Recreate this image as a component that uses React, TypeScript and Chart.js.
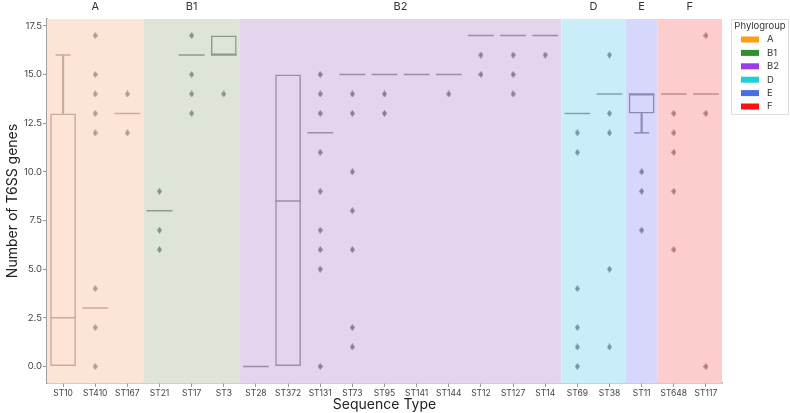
import React, { useEffect, useRef } from 'react';
import Chart from 'chart.js/auto';

const categories = ['ST10', 'ST410', 'ST167', 'ST21', 'ST17', 'ST3', 'ST28', 'ST372', 'ST131', 'ST73', 'ST95', 'ST141', 'ST144', 'ST12', 'ST127', 'ST14', 'ST69', 'ST38', 'ST11', 'ST648', 'ST117'];
const categoryGroup = ['A', 'A', 'A', 'B1', 'B1', 'B1', 'B2', 'B2', 'B2', 'B2', 'B2', 'B2', 'B2', 'B2', 'B2', 'B2', 'D', 'D', 'E', 'F', 'F'];
const groups = ['A', 'B1', 'B2', 'D', 'E', 'F'];

const boxLow: (number | null)[] = [0, null, null, null, null, 16, null, 0, null, null, null, null, null, null, null, null, null, null, 13, null, null];
const boxHigh: (number | null)[] = [13, null, null, null, null, 17, null, 15, null, null, null, null, null, null, null, null, null, null, 14, null, null];
const medians: number[] = [2.5, 3, 13, 8, 16, 16, 0, 8.5, 12, 15, 15, 15, 15, 17, 17, 17, 13, 14, 14, 14, 14];
const whiskerLow: (number | null)[] = [null, null, null, null, null, null, null, null, null, null, null, null, null, null, null, null, null, null, 12, null, null];
const whiskerHigh: (number | null)[] = [16, null, null, null, null, null, null, null, null, null, null, null, null, null, null, null, null, null, null, null, null];
const outliers: number[][] = [
  [],
  [17, 15, 14, 13, 12, 4, 2, 0],
  [14, 12],
  [9, 7, 6],
  [17, 15, 14, 13],
  [14],
  [],
  [],
  [15, 14, 13, 11, 9, 7, 6, 5, 0],
  [14, 13, 10, 8, 6, 2, 1],
  [14, 13],
  [],
  [14],
  [16, 15],
  [16, 15, 14],
  [16],
  [12, 11, 4, 2, 1, 0],
  [16, 13, 12, 5, 1],
  [10, 9, 7],
  [13, 12, 11, 9, 6],
  [17, 13, 0],
];
const yTicks = [0, 2.5, 5, 7.5, 10, 12.5, 15, 17.5];

const groupStyle: Record<string, { bg: string; edge: string; dot: string; legend: string }> = {
  A: { bg: '#fce4d6', edge: '#c8ab9c', dot: '#b19a8f', legend: '#ff9c12' },
  B1: { bg: '#dee5d6', edge: '#8e9a89', dot: '#889483', legend: '#2e8f2e' },
  B2: { bg: '#e3d5ec', edge: '#9d8dac', dot: '#8c7c9c', legend: '#9b3bef' },
  D: { bg: '#caeef9', edge: '#80a2b0', dot: '#7896a5', legend: '#1fcfd3' },
  E: { bg: '#d7d7fb', edge: '#8b8bba', dot: '#7f7fac', legend: '#4b6ee8' },
  F: { bg: '#fdcdcd', edge: '#c28b8b', dot: '#b07c7c', legend: '#ff0f0f' },
};

const FONT = 'Inter, "DejaVu Sans", sans-serif';

function makeDiamond(color: string): HTMLCanvasElement {
  const c = document.createElement('canvas');
  c.width = 5;
  c.height = 7;
  const g = c.getContext('2d')!;
  g.fillStyle = color;
  g.beginPath();
  g.moveTo(2.5, 0);
  g.lineTo(5, 3.5);
  g.lineTo(2.5, 7);
  g.lineTo(0, 3.5);
  g.closePath();
  g.fill();
  return c;
}

const bgPlugin = {
  id: 'groupBg',
  beforeDatasetsDraw(chart: any) {
    const { ctx, chartArea } = chart;
    const xs = chart.scales.xTop;
    ctx.save();
    groups.forEach((g) => {
      const first = categoryGroup.indexOf(g);
      const last = categoryGroup.lastIndexOf(g);
      const l = xs.getPixelForValue(first - 0.5);
      const r = xs.getPixelForValue(last + 0.5);
      ctx.fillStyle = groupStyle[g].bg;
      ctx.fillRect(l, chartArea.top, r - l, chartArea.bottom - chartArea.top);
    });
    ctx.restore();
  },
};

const legendPlugin = {
  id: 'phyloLegend',
  afterDraw(chart: any) {
    const { ctx, chartArea } = chart;
    const x0 = chartArea.right + 9;
    const y0 = chartArea.top;
    const w = 57;
    const h = 95;
    ctx.save();
    ctx.strokeStyle = '#dddddd';
    ctx.lineWidth = 1;
    ctx.fillStyle = '#ffffff';
    ctx.beginPath();
    ctx.rect(x0 + 0.5, y0 + 0.5, w, h);
    ctx.fill();
    ctx.stroke();
    ctx.fillStyle = '#333333';
    ctx.font = `9.5px ${FONT}`;
    ctx.textAlign = 'center';
    ctx.textBaseline = 'middle';
    ctx.fillText('Phylogroup', x0 + w / 2 + 0.5, y0 + 7.5);
    groups.forEach((g, i) => {
      const cy = y0 + 20.5 + i * 13.4;
      ctx.fillStyle = groupStyle[g].legend;
      ctx.fillRect(x0 + 10, cy - 3, 18, 6);
      ctx.fillStyle = '#333333';
      ctx.textAlign = 'left';
      ctx.fillText(g, x0 + 36, cy);
    });
    ctx.restore();
  },
};

export default function App() {
  const ref = useRef<HTMLCanvasElement | null>(null);
  useEffect(() => {
    if (!ref.current) return;
    const edgeColors = categoryGroup.map((g) => groupStyle[g].edge);
    const diamonds: Record<string, HTMLCanvasElement> = {};
    groups.forEach((g) => { diamonds[g] = makeDiamond(groupStyle[g].dot); });
    const whiskerHiData = categories.map((_, i) => (whiskerHigh[i] != null && boxHigh[i] != null ? [boxHigh[i] as number, whiskerHigh[i] as number] : null));
    const whiskerLoData = categories.map((_, i) => (whiskerLow[i] != null && boxLow[i] != null ? [whiskerLow[i] as number, boxLow[i] as number] : null));
    const boxData = categories.map((_, i) => (boxLow[i] != null && boxHigh[i] != null ? [boxLow[i] as number, boxHigh[i] as number] : null));
    const outlierPts: { x: string; y: number }[] = [];
    const outlierStyles: HTMLCanvasElement[] = [];
    outliers.forEach((vals, i) => {
      vals.forEach((v) => {
        outlierPts.push({ x: categories[i], y: v });
        outlierStyles.push(diamonds[categoryGroup[i]]);
      });
    });
    const capPts = [
      ...categories.map((c, i) => (whiskerHigh[i] != null ? { x: c, y: whiskerHigh[i] as number } : null)),
      ...categories.map((c, i) => (whiskerLow[i] != null ? { x: c, y: whiskerLow[i] as number } : null)),
    ].filter(Boolean) as { x: string; y: number }[];
    const capColors = capPts.map((p) => groupStyle[categoryGroup[categories.indexOf(p.x)]].edge);

    const chart = new Chart(ref.current, {
      type: 'bar',
      data: {
        labels: categories,
        datasets: [
          {
            type: 'bar',
            data: boxData as any,
            backgroundColor: 'rgba(0,0,0,0)',
            borderColor: edgeColors,
            borderWidth: 1.5,
            borderSkipped: false,
            barPercentage: 0.8,
            categoryPercentage: 1,
            grouped: false,
            order: 3,
          } as any,
          {
            type: 'bar',
            data: whiskerHiData as any,
            backgroundColor: edgeColors,
            borderWidth: 0,
            barThickness: 1.5,
            grouped: false,
            order: 3,
          } as any,
          {
            type: 'bar',
            data: whiskerLoData as any,
            backgroundColor: edgeColors,
            borderWidth: 0,
            barThickness: 1.5,
            grouped: false,
            order: 3,
          } as any,
          {
            type: 'line',
            data: medians,
            showLine: false,
            pointStyle: 'line',
            pointRadius: 12.9,
            pointBorderWidth: 1.5,
            pointBorderColor: edgeColors,
            order: 2,
          } as any,
          {
            type: 'line',
            data: capPts as any,
            showLine: false,
            pointStyle: 'line',
            pointRadius: 7.5,
            pointBorderWidth: 1.5,
            pointBorderColor: capColors,
            order: 2,
          } as any,
          {
            type: 'line',
            data: outlierPts as any,
            showLine: false,
            pointStyle: outlierStyles,
            pointRadius: 3,
            pointBorderWidth: 0,
            order: 1,
          } as any,
        ],
      },
      options: {
        animation: false,
        responsive: false,
        events: [],
        layout: { padding: { left: 0, right: 68, top: 0, bottom: 0 } },
        plugins: { legend: { display: false }, tooltip: { enabled: false } },
        scales: {
          x: {
            type: 'category',
            position: 'bottom',
            offset: true,
            grid: { display: true, drawOnChartArea: false, drawTicks: true, tickLength: 4, offset: false, color: '#999999' },
            border: { display: true, color: '#a0a0a0', width: 1.5 },
            ticks: { font: { size: 8.5, family: FONT }, color: '#444444', padding: 1, maxRotation: 0, autoSkip: false },
            title: { display: true, text: 'Sequence Type', font: { size: 14, family: FONT }, color: '#222222', padding: { top: 0, bottom: 0 } },
            afterFit(s: any) { s.height = 30; },
          },
          xTop: {
            type: 'linear',
            position: 'top',
            offset: false,
            bounds: 'data',
            min: -0.5,
            max: categories.length - 0.5,
            grid: { display: false, drawTicks: false, offset: false },
            border: { display: false },
            ticks: {
              font: { size: 11, family: FONT },
              color: '#333333',
              padding: 6,
              autoSkip: false,
              maxRotation: 0,
              callback: (v: any) => {
                const g = groups.find((gg) => (categoryGroup.indexOf(gg) + categoryGroup.lastIndexOf(gg)) / 2 === v);
                return g ?? '';
              },
            },
            afterBuildTicks(s: any) {
              s.ticks = groups.map((g) => ({ value: (categoryGroup.indexOf(g) + categoryGroup.lastIndexOf(g)) / 2 }));
            },
            afterFit(s: any) { s.height = 19; },
          },
          y: {
            type: 'linear',
            min: -0.85,
            max: 17.85,
            grid: { display: true, drawOnChartArea: false, drawTicks: true, tickLength: 4, color: '#999999' },
            border: { display: true, color: '#a0a0a0', width: 1.5 },
            ticks: {
              font: { size: 9.5, family: FONT },
              color: '#444444',
              padding: 1,
              callback: (v: any) => Number(v).toFixed(1),
            },
            afterBuildTicks(s: any) {
              s.ticks = yTicks.map((v) => ({ value: v }));
            },
            title: { display: true, text: 'Number of T6SS genes', font: { size: 14, family: FONT }, color: '#222222' },
            afterFit(s: any) { s.width = 47; },
          },
        },
      } as any,
      plugins: [bgPlugin, legendPlugin],
    });
    return () => chart.destroy();
  }, []);

  return (
    <div style={{ position: 'absolute', left: 0, top: 0, width: 790, height: 413, background: '#ffffff' }}>
      <canvas ref={ref} width={790} height={413} style={{ width: 790, height: 413, display: 'block' }} />
    </div>
  );
}
